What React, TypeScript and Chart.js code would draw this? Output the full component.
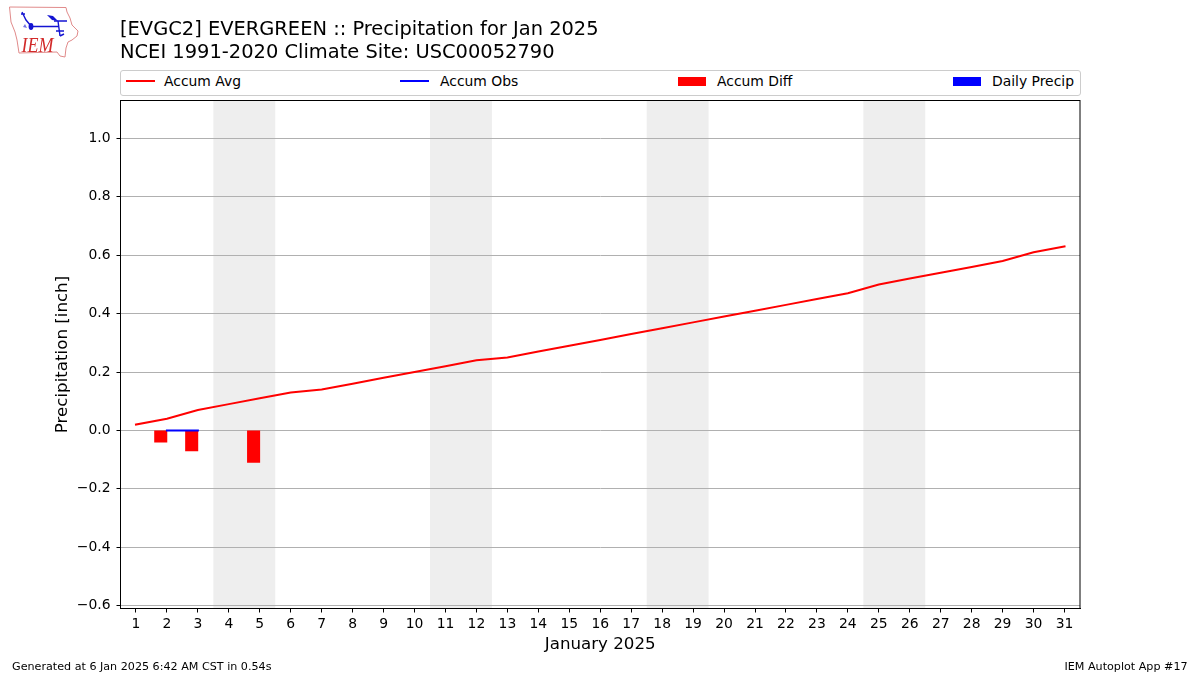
import React, { useEffect, useRef } from "react";
import { Chart, registerables } from "chart.js";

Chart.register(...registerables);

const days = Array.from({ length: 31 }, (_, i) => i + 1);
const accumAvg = [0.02, 0.04, 0.07, 0.09, 0.11, 0.13, 0.14, 0.16, 0.18, 0.2, 0.22, 0.24, 0.25, 0.27, 0.29, 0.31, 0.33, 0.35, 0.37, 0.39, 0.41, 0.43, 0.45, 0.47, 0.5, 0.52, 0.54, 0.56, 0.58, 0.61, 0.63];
const obsDays = [2, 3];
const accumObs = [0, 0];
const diffDays = [2, 3, 5];
const accumDiff = [-0.04, -0.07, -0.11];
const precipDays: number[] = [];
const dailyPrecip: number[] = [];
const weekendSpans = [[3.5, 5.5], [10.5, 12.5], [17.5, 19.5], [24.5, 26.5]];
const yTicks = [-0.6, -0.4, -0.2, 0, 0.2, 0.4, 0.6, 0.8, 1.0];
const titleLines = ["[EVGC2] EVERGREEN :: Precipitation for Jan 2025", "NCEI 1991-2020 Climate Site: USC00052790"];
const FONT = "'DejaVu Sans', sans-serif";

const frame = {
  id: "frame",
  beforeDraw(c: any) {
    const { ctx, chartArea: a, scales } = c;
    ctx.save();
    ctx.fillStyle = "#eeeeee";
    for (const [s, e] of weekendSpans) {
      const x0 = scales.x.getPixelForValue(s);
      const x1 = scales.x.getPixelForValue(e);
      ctx.fillRect(x0, a.top, x1 - x0, a.bottom - a.top);
    }
    ctx.restore();
  },
  afterDatasetsDraw(c: any) {
    const { ctx, chartArea: a } = c;
    ctx.save();
    ctx.strokeStyle = "#000";
    ctx.lineWidth = 1;
    ctx.strokeRect(a.left, a.top, a.right - a.left, a.bottom - a.top);
    ctx.restore();
  },
};

const txt = (left: number, top: number, s: string, size: number, extra: any = {}) => (
  <div style={{ position: "absolute", left, top, fontSize: size, lineHeight: 1, whiteSpace: "nowrap", fontFamily: FONT, color: "#000", ...extra }}>{s}</div>
);

const swatch = (left: number, kind: "line" | "patch", color: string) =>
  kind === "line" ? (
    <div style={{ position: "absolute", left, top: 80, width: 29, height: 2, background: color }} />
  ) : (
    <div style={{ position: "absolute", left, top: 77, width: 28, height: 9, background: color }} />
  );

function Logo() {
  return (
    <svg style={{ position: "absolute", left: 0, top: 0 }} width={90} height={65} viewBox="0 0 90 65">
      <path d="M9.5 7 L66 7.5 L67 12 L70 18 L72 25 L78 31 L77 36 L72 40 L68 42 L66 48 L65 57 L60 56 L57 52 L19 53 L17 40 L15 32 L11 22 Z" fill="#fff" stroke="#e08a8a" strokeWidth={1} />
      <path d="M31 26.5 L59 26.5 M54 21 L67 21 M58 21 L60 36 M21 14 L25 14 M22 12 L26 20 L31 26 M56 31 L64 31 M60 36 L64 34" stroke="#1414d2" strokeWidth={1.4} fill="none" />
      <ellipse cx={31} cy={26.5} rx={2.4} ry={3.4} fill="#1414d2" />
      <path d="M47 15 L53 16 L58 21 L52 20 Z" fill="#1414d2" />
      <path d="M23 27 L25 24 L27 28 Z" fill="#1414d2" opacity={0.6} />
      <text x={21.5} y={52} fontFamily="'Liberation Serif', serif" fontStyle="italic" fontSize={22} textLength={32} lengthAdjust="spacingAndGlyphs" fill="#d22a2a">IEM</text>
    </svg>
  );
}

export default function App() {
  const ref = useRef<HTMLCanvasElement>(null);
  useEffect(() => {
    const chart = new Chart(ref.current as HTMLCanvasElement, {
      type: "bar",
      plugins: [frame],
      data: {
        datasets: [
          { type: "line", label: "Accum Avg", data: days.map((d, i) => ({ x: d, y: accumAvg[i] })), borderColor: "#ff0000", backgroundColor: "#ff0000", borderWidth: 2, pointRadius: 0, tension: 0, borderCapStyle: "square", order: 1 },
          { type: "line", label: "Accum Obs", data: obsDays.map((d, i) => ({ x: d, y: accumObs[i] })), borderColor: "#0000ff", backgroundColor: "#0000ff", borderWidth: 2, pointRadius: 0, tension: 0, borderCapStyle: "square", order: 2 },
          { type: "bar", label: "Accum Diff", data: diffDays.map((d, i) => ({ x: d - 0.2, y: accumDiff[i] })), backgroundColor: "#ff0000", barThickness: 12.4, grouped: false, order: 3 },
          { type: "bar", label: "Daily Precip", data: precipDays.map((d, i) => ({ x: d + 0.2, y: dailyPrecip[i] })), backgroundColor: "#0000ff", barThickness: 12.4, grouped: false, order: 4 },
        ] as any,
      },
      options: {
        animation: false,
        responsive: false,
        devicePixelRatio: 1,
        layout: { padding: { top: 100.5, right: 120, left: 50, bottom: 20 } },
        plugins: { legend: { display: false }, title: { display: false }, tooltip: { enabled: false } },
        scales: {
          x: {
            type: "linear",
            offset: false,
            min: 0.5,
            max: 31.5,
            afterBuildTicks: (s: any) => { s.ticks = days.map((d) => ({ value: d })); },
            afterFit: (s: any) => { s.height = 46.5; },
            ticks: { autoSkip: false, maxRotation: 0, color: "#000", font: { family: FONT, size: 13.9 }, padding: 4, callback: (v: any) => String(v) },
            grid: { display: true, offset: false, drawOnChartArea: false, tickColor: "#000", tickLength: 4 },
            border: { color: "#000" },
            title: { display: true, text: "January 2025", color: "#000", font: { family: FONT, size: 16.67 }, padding: { top: 2, bottom: 0 } },
          },
          y: {
            type: "linear",
            min: -0.61,
            max: 1.13,
            afterBuildTicks: (s: any) => { s.ticks = yTicks.map((v) => ({ value: v })); },
            afterFit: (s: any) => { s.width = 70.5; },
            ticks: { color: "#000", font: { family: FONT, size: 13.9 }, padding: 6, callback: (v: any) => (v < 0 ? "\u2212" + Math.abs(v).toFixed(1) : Number(v).toFixed(1)) },
            grid: { color: "#b0b0b0", lineWidth: 1, tickColor: "#000", tickLength: 4 },
            border: { color: "#000" },
            title: { display: true, text: "Precipitation [inch]", color: "#000", font: { family: FONT, size: 16.67 }, padding: { top: 3, bottom: 0 } },
          },
        },
      } as any,
    });
    return () => chart.destroy();
  }, []);

  return (
    <div style={{ position: "absolute", left: 0, top: 0, width: 1200, height: 675, background: "#fff", overflow: "hidden" }}>
      <canvas ref={ref} width={1200} height={675} style={{ position: "absolute", left: 0, top: 0, width: 1200, height: 675 }} />
      <Logo />
      {txt(120, 19, titleLines[0], 19.45)}
      {txt(120, 42, titleLines[1], 19.45)}
      <div style={{ position: "absolute", left: 120, top: 70, width: 959, height: 24, border: "1px solid #cccccc", borderRadius: 3, background: "#fff" }} />
      {swatch(126, "line", "#ff0000")}
      {txt(164, 75, "Accum Avg", 13.9)}
      {swatch(400, "line", "#0000ff")}
      {txt(440, 75, "Accum Obs", 13.9)}
      {swatch(678, "patch", "#ff0000")}
      {txt(717, 75, "Accum Diff", 13.9)}
      {swatch(953, "patch", "#0000ff")}
      {txt(992, 75, "Daily Precip", 13.9)}
      {txt(12, 661, "Generated at 6 Jan 2025 6:42 AM CST in 0.54s", 11.15)}
      {txt(1064.5, 661, "IEM Autoplot App #17", 11.15)}
    </div>
  );
}
